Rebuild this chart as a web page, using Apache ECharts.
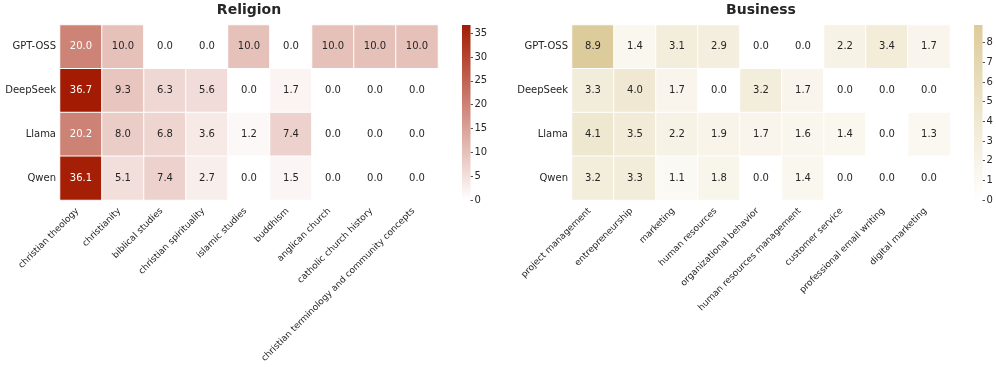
<!DOCTYPE html>
<html>
<head>
<meta charset="utf-8">
<script src="https://cdn.jsdelivr.net/npm/echarts@6/dist/echarts.min.js"></script>
<style>
  html, body { margin: 0; padding: 0; background: #fff; }
  #chart { width: 996px; height: 372px; }
</style>
</head>
<body>
<div id="chart"></div>
<script>
// models (rows)
const models = ['GPT-OSS', 'DeepSeek', 'Llama', 'Qwen'];

// religion panel
const religionTopics = ['christian theology', 'christianity', 'biblical studies', 'christian spirituality',
  'islamic studies', 'buddhism', 'anglican church', 'catholic church history',
  'christian terminology and community concepts'];
const religionValues = [
  [20.0, 10.0, 0.0, 0.0, 10.0, 0.0, 10.0, 10.0, 10.0],
  [36.7, 9.3, 6.3, 5.6, 0.0, 1.7, 0.0, 0.0, 0.0],
  [20.2, 8.0, 6.8, 3.6, 1.2, 7.4, 0.0, 0.0, 0.0],
  [36.1, 5.1, 7.4, 2.7, 0.0, 1.5, 0.0, 0.0, 0.0]
];
const religionTicks = [0, 5, 10, 15, 20, 25, 30, 35];

// business panel
const businessTopics = ['project management', 'entrepreneurship', 'marketing', 'human resources',
  'organizational behavior', 'human resources management', 'customer service',
  'professional email writing', 'digital marketing'];
const businessValues = [
  [8.9, 1.4, 3.1, 2.9, 0.0, 0.0, 2.2, 3.4, 1.7],
  [3.3, 4.0, 1.7, 0.0, 3.2, 1.7, 0.0, 0.0, 0.0],
  [4.1, 3.5, 2.2, 1.9, 1.7, 1.6, 1.4, 0.0, 1.3],
  [3.2, 3.3, 1.1, 1.8, 0.0, 1.4, 0.0, 0.0, 0.0]
];
const businessTicks = [0, 1, 2, 3, 4, 5, 6, 7, 8];

const FONT = 'DejaVu Sans';
const DARK = '#262626';

// 颜色插值 + 亮度，决定格子里文字用白色还是深色
function hex2rgb (h) {
  return [parseInt(h.slice(1, 3), 16), parseInt(h.slice(3, 5), 16), parseInt(h.slice(5, 7), 16)];
}
function textColor (lo, hi, t) {
  const a = hex2rgb(lo), b = hex2rgb(hi);
  const c = a.map((v, i) => (v + (b[i] - v) * t) / 255)
    .map(v => v <= 0.03928 ? v / 12.92 : Math.pow((v + 0.055) / 1.055, 2.4));
  const lum = 0.2126 * c[0] + 0.7152 * c[1] + 0.0722 * c[2];
  return lum > 0.408 ? DARK : '#ffffff';
}

function buildData (values, max, lo, hi) {
  const out = [];
  values.forEach((row, r) => {
    row.forEach((v, c) => {
      out.push({ value: [c, r, v], label: { color: textColor(lo, hi, v / max) } });
    });
  });
  return out;
}

const panels = [
  { title: 'Religion', topics: religionTopics, values: religionValues, ticks: religionTicks,
    left: 60, barLeft: 462, center: 249, lo: '#ffffff', hi: '#a31b03' },
  { title: 'Business', topics: businessTopics, values: businessValues, ticks: businessTicks,
    left: 572, barLeft: 974, center: 761, lo: '#ffffff', hi: '#ddcc9b' }
];

const chart = echarts.init(document.getElementById('chart'));

const option = {
  animation: false,
  textStyle: { fontFamily: FONT },
  title: [],
  grid: [],
  xAxis: [],
  yAxis: [],
  visualMap: [],
  series: []
};

panels.forEach((p, i) => {
  const max = Math.max(...p.values.flat());
  const g = i * 2;
  option.title.push({
    text: p.title, left: p.center, top: 3, textAlign: 'center', padding: 0,
    textStyle: { fontFamily: FONT, fontSize: 14, fontWeight: 'bold', color: DARK }
  });
  // heatmap grid
  option.grid.push({ left: p.left, top: 25, width: 378, height: 175, outerBoundsMode: 'none' });
  // colorbar grid
  option.grid.push({ left: p.barLeft, top: 25, width: 8.5, height: 175, outerBoundsMode: 'none' });

  option.xAxis.push({
    type: 'category', gridIndex: g, data: p.topics,
    axisLine: { show: false }, axisTick: { show: false }, splitLine: { show: false },
    axisLabel: { rotate: 45, interval: 0, margin: 6, padding: [0, 5, 0, 0],
      fontSize: 9, color: DARK, fontFamily: FONT }
  });
  option.yAxis.push({
    type: 'category', gridIndex: g, data: models, inverse: true,
    axisLine: { show: false }, axisTick: { show: false }, splitLine: { show: false },
    axisLabel: { margin: 4, fontSize: 10, color: DARK, fontFamily: FONT }
  });
  option.xAxis.push({ type: 'category', gridIndex: g + 1, data: ['bar'], show: false });
  option.yAxis.push({
    type: 'value', gridIndex: g + 1, min: 0, max: max, position: 'right',
    axisLine: { show: false }, splitLine: { show: false },
    axisTick: { show: true, length: 2.5, customValues: p.ticks, lineStyle: { color: DARK, width: 0.8 } },
    axisLabel: { margin: 4, fontSize: 10, color: DARK, fontFamily: FONT, customValues: p.ticks }
  });

  // only for mapping values to colours; the colorbar itself is a bar series below
  option.visualMap.push({
    type: 'continuous', seriesIndex: i, min: 0, max: max, show: false,
    inRange: { color: [p.lo, p.hi] }
  });

  option.series.push({
    type: 'heatmap', xAxisIndex: g, yAxisIndex: g,
    data: buildData(p.values, max, p.lo, p.hi),
    itemStyle: { borderColor: '#ffffff', borderWidth: 1 },
    label: {
      show: true, fontSize: 10, fontFamily: FONT,
      formatter: function (d) { return d.value[2].toFixed(1); }
    }
  });
});

// colorbars
panels.forEach((p, i) => {
  const max = Math.max(...p.values.flat());
  option.series.push({
    type: 'bar', xAxisIndex: i * 2 + 1, yAxisIndex: i * 2 + 1,
    data: [max], barWidth: '100%', silent: true,
    itemStyle: {
      color: new echarts.graphic.LinearGradient(0, 0, 0, 1, [
        { offset: 0, color: p.hi }, { offset: 1, color: p.lo }
      ])
    }
  });
});

chart.setOption(option);
</script>
</body>
</html>
